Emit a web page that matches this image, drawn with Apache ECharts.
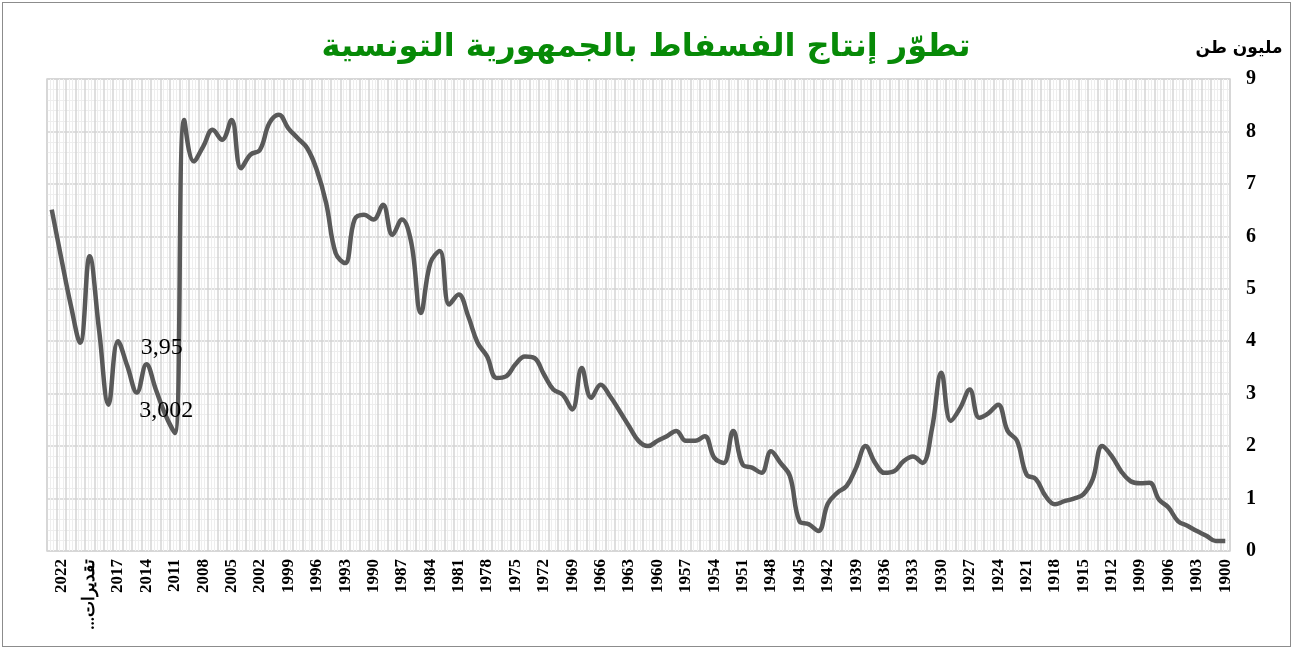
<!DOCTYPE html>
<html lang="ar">
  <head>
    <meta charset="UTF-8" />
    <title>Document</title>
    <script src="https://cdn.jsdelivr.net/npm/echarts@6/dist/echarts.min.js"></script>
  </head>
  <style>
    html,
    body {
      margin: 0;
      padding: 0;
      background: #fff;
    }
    #echart {
      position: absolute;
      left: 0;
      top: 0;
      width: 1292px;
      height: 648px;
    }
    .frame {
      position: absolute;
      left: 2px;
      top: 2px;
      width: 1287px;
      height: 643px;
      border: 1px solid #8c8c8c;
      pointer-events: none;
    }
  </style>
  <body>
    <div id="echart"></div>
    <div class="frame"></div>
  </body>
  <script>
    // production, million tonnes, 1900 first (axis is drawn reversed)
    const values1900s = [0.19, 0.19, 0.29, 0.38, 0.48, 0.57, 0.83, 0.98, 1.30, 1.29];
    const values1910s = [1.33, 1.52, 1.81, 2.00, 1.37, 1.08, 1.00, 0.95, 0.89, 1.05];
    const values1920s = [1.37, 1.46, 2.10, 2.29, 2.79, 2.63, 2.54, 3.08, 2.73, 2.48];
    const values1930s = [3.40, 2.32, 1.68, 1.80, 1.71, 1.52, 1.49, 1.68, 2.00, 1.59];
    const values1940s = [1.24, 1.11, 0.90, 0.38, 0.51, 0.57, 1.43, 1.68, 1.90, 1.49];
    const values1950s = [1.59, 1.65, 2.29, 1.68, 1.78, 2.19, 2.10, 2.10, 2.29, 2.19];
    const values1960s = [2.10, 2.00, 2.10, 2.38, 2.67, 2.95, 3.17, 2.92, 3.49, 2.70];
    const values1970s = [2.98, 3.08, 3.37, 3.68, 3.71, 3.56, 3.33, 3.30, 3.71, 3.97];
    const values1980s = [4.48, 4.89, 4.70, 5.72, 5.49, 4.54, 5.87, 6.32, 6.03, 6.60];
    const values1990s = [6.32, 6.41, 6.32, 5.49, 5.68, 6.63, 7.27, 7.68, 7.87, 8.06];
    const values2000s = [8.32, 8.16, 7.65, 7.56, 7.30, 8.22, 7.84, 8.03, 7.71, 7.43];
    const values2010s = [8.22, 2.25, 2.60, 3.08, 3.56, 3.02, 3.52, 4.00];
    const valuesRecent = [2.79, 4.22, 5.62, 3.97, 4.70, 5.59, 6.51];

    const recentLabels = ["2018", "2019", "تقديرات...\u200F", "2020", "2021", "2022", "2023"];
    const yTicks = [0, 1, 2, 3, 4, 5, 6, 7, 8, 9];

    // point labels (category, text, offset)
    const pointNotes = [
      { cat: "2013", text: "3,95", offset: [6, -42] },
      { cat: "2012", text: "3,002", offset: [1, -4] },
    ];

    const categories = [];
    for (let y = 1900; y <= 2017; y++) categories.push(String(y));
    recentLabels.forEach((l) => categories.push(l));

    const values = [].concat(
      values1900s, values1910s, values1920s, values1930s, values1940s, values1950s,
      values1960s, values1970s, values1980s, values1990s, values2000s, values2010s, valuesRecent
    );

    const seriesData = values.map((v, i) => {
      const note = pointNotes.find((n) => n.cat === categories[i]);
      if (!note) return v;
      return {
        value: v,
        label: {
          show: true,
          position: "inside",
          offset: note.offset,
          formatter: note.text,
          color: "#000",
          fontFamily: "Liberation Serif",
          fontSize: 24,
        },
      };
    });

    const chart = echarts.init(document.getElementById("echart"));

    const option = {
      animation: false,
      title: {
        text: "تطوّر إنتاج الفسفاط بالجمهورية التونسية",
        left: "center",
        top: 27,
        textStyle: {
          color: "#078a07",
          fontSize: 32,
          fontWeight: "bold",
          fontFamily: "DejaVu Sans",
        },
      },
      grid: {
        left: 47,
        right: 62,
        top: 79,
        bottom: 97,
        show: true,
        borderColor: "#d4d4d4",
        borderWidth: 1.5,
      },
      xAxis: [
        {
          type: "category",
          data: categories,
          inverse: true,
          boundaryGap: true,
          axisLine: { show: false },
          axisTick: { show: false },
          axisLabel: {
            interval: (i) => i % 3 === 0,
            rotate: 90,
            margin: 8,
            color: "#000",
            fontWeight: "bold",
            fontSize: 17,
            fontFamily: "Liberation Serif",
          },
          splitLine: {
            show: true,
            interval: 0,
            lineStyle: { color: "#d4d4d4", width: 1.5 },
          },
        },
        {
          type: "value",
          min: 0,
          max: categories.length,
          interval: 1,
          show: true,
          axisLine: { show: false, onZero: false },
          axisTick: { show: false },
          axisLabel: { show: false },
          splitLine: { show: false },
          minorTick: { show: false, splitNumber: 3 },
          minorSplitLine: { show: true, lineStyle: { color: "#eeeeee", width: 1 } },
        },
      ],
      yAxis: {
        type: "value",
        position: "right",
        min: yTicks[0],
        max: yTicks[yTicks.length - 1],
        interval: 1,
        name: "مليون طن",
        nameLocation: "end",
        nameGap: 22,
        nameTextStyle: {
          color: "#000",
          fontWeight: "bold",
          fontSize: 17,
          fontFamily: "DejaVu Sans",
          padding: [0, 0, 0, 18],
        },
        axisLine: { show: false, onZero: false },
        axisTick: { show: false },
        axisLabel: {
          margin: 16,
          color: "#000",
          fontWeight: "bold",
          fontSize: 20,
          fontFamily: "Liberation Serif",
        },
        splitLine: { lineStyle: { color: "#d4d4d4", width: 1.5 } },
        minorTick: { show: false, splitNumber: 5 },
        minorSplitLine: { show: true, lineStyle: { color: "#eeeeee", width: 1 } },
      },
      series: [
        {
          type: "line",
          data: seriesData,
          smooth: 0.4,
          showSymbol: true,
          symbol: "circle",
          symbolSize: 0,
          lineStyle: { color: "#595959", width: 4.5 },
          z: 3,
        },
      ],
    };

    chart.setOption(option);
  </script>
</html>
